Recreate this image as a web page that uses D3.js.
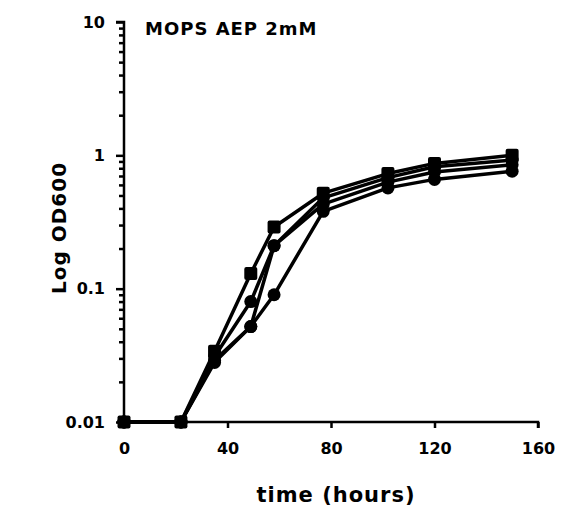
<!DOCTYPE html>
<html>
<head>
<meta charset="utf-8">
<script src="https://cdn.jsdelivr.net/npm/d3@7"></script>
<style>
  body { margin: 0; background: #fff; }
  text { font-family: "DejaVu Sans", "Liberation Sans", sans-serif; font-weight: bold; fill: #000; }
</style>
</head>
<body>
<svg id="chart"></svg>
<script>
const hours = [0, 22, 35, 49, 58, 77, 102, 120, 150];
const seriesA = [0.01, 0.01, 0.034, 0.13, 0.29, 0.52, 0.73, 0.87, 1.0];
const seriesB = [0.01, 0.01, 0.031, 0.08, 0.21, 0.48, 0.68, 0.82, 0.92];
const seriesC = [0.01, 0.01, 0.029, 0.052, 0.21, 0.43, 0.63, 0.75, 0.85];
const seriesD = [0.01, 0.01, 0.028, 0.052, 0.09, 0.38, 0.57, 0.66, 0.76];
const markerKinds = ["square", "circle", "circle", "circle"];
const xTickVals = [0, 40, 80, 120, 160];
const yTickVals = [0.01, 0.1, 1, 10];
const yTickLabels = ["0.01", "0.1", "1", "10"];

const width = 563, height = 510;
const margin = {left: 124, right: 25, top: 22, bottom: 88};

const svg = d3.select("#chart").attr("width", width).attr("height", height);

const x = d3.scaleLinear().domain([0, 160]).range([margin.left, width - margin.right]);
const y = d3.scaleLog().domain([0.01, 10]).range([height - margin.bottom, margin.top]);

// x axis
const xAxis = d3.axisBottom(x).tickValues(xTickVals).tickSize(6).tickPadding(15).tickFormat(d3.format("d"));
const gx = svg.append("g").attr("transform", "translate(0," + y(0.01) + ")").call(xAxis);
gx.select(".domain").attr("stroke-width", 2.5).attr("d", "M" + x(0) + ",0H" + x(160) + "V6");
gx.selectAll(".tick line").attr("stroke-width", 2.5);
gx.selectAll(".tick").filter(d => d === 0).select("line").remove();
gx.selectAll(".tick text").attr("font-size", 16).attr("font-family", "DejaVu Sans").attr("font-weight", "bold");

// y axis, minor ticks
const minor = [];
for (let e = -2; e < 1; e++) for (let m = 2; m <= 9; m++) minor.push(m * Math.pow(10, e));
const gyMinor = svg.append("g").attr("transform", "translate(" + x(0) + ",0)")
  .call(d3.axisLeft(y).tickValues(minor).tickSize(5).tickFormat(""));
gyMinor.select(".domain").remove();
gyMinor.selectAll(".tick line").attr("stroke-width", 2.5);

const yAxis = d3.axisLeft(y).tickValues(yTickVals).tickSize(8).tickPadding(11)
  .tickFormat((d, i) => yTickLabels[i]);
const gy = svg.append("g").attr("transform", "translate(" + x(0) + ",0)").call(yAxis);
gy.select(".domain").attr("stroke-width", 2.5).attr("d", "M-8," + y(10) + "H0V" + y(0.01));
gy.selectAll(".tick line").attr("stroke-width", 2.5);
gy.selectAll(".tick text").attr("font-size", 16).attr("font-family", "DejaVu Sans").attr("font-weight", "bold");

// lines and markers
const allSeries = [seriesD, seriesC, seriesB, seriesA];
const kinds = [markerKinds[3], markerKinds[2], markerKinds[1], markerKinds[0]];
const line = d3.line().x(d => x(d[0])).y(d => y(d[1]));

allSeries.forEach((vals, si) => {
  const pts = hours.map((h, i) => [h, vals[i]]);
  svg.append("path").datum(pts).attr("d", line)
    .attr("fill", "none").attr("stroke", "#000").attr("stroke-width", 3.5)
    .attr("stroke-linejoin", "round");
});
allSeries.forEach((vals, si) => {
  const pts = hours.map((h, i) => [h, vals[i]]);
  if (kinds[si] === "square") {
    svg.selectAll(null).data(pts).join("rect")
      .attr("x", d => x(d[0]) - 6.5).attr("y", d => y(d[1]) - 6.5)
      .attr("width", 13).attr("height", 13).attr("rx", 2).attr("fill", "#000");
  } else {
    svg.selectAll(null).data(pts).join("circle")
      .attr("cx", d => x(d[0])).attr("cy", d => y(d[1])).attr("r", 6.5).attr("fill", "#000");
  }
});

// labels
svg.append("text").attr("x", 145).attr("y", 35).attr("font-size", 18).attr("letter-spacing", 1).text("MOPS AEP 2mM");
svg.append("text").attr("x", 336).attr("y", 502).attr("text-anchor", "middle").attr("font-size", 21).attr("letter-spacing", 1).text("time (hours)");
svg.append("text").attr("transform", "translate(66,228) rotate(-90)").attr("text-anchor", "middle")
  .attr("font-size", 20).attr("letter-spacing", 1).text("Log OD600");
</script>
</body>
</html>
